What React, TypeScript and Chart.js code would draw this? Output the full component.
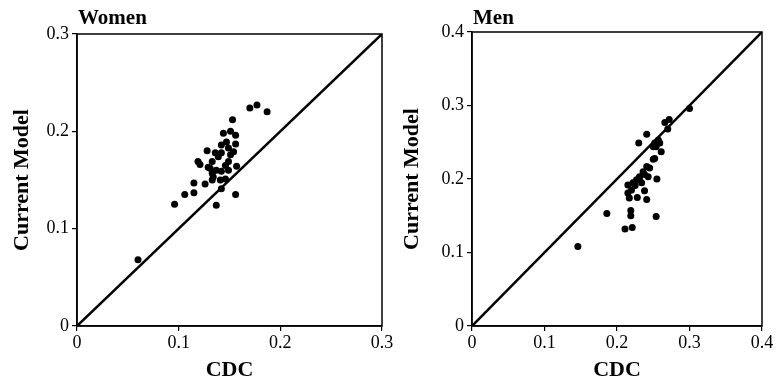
import React, { useEffect, useRef } from "react";
import { Chart, registerables } from "chart.js";

Chart.register(...registerables);

const womenCDC = [0.060, 0.096, 0.106, 0.115, 0.115, 0.126, 0.137, 0.142, 0.156, 0.146, 0.134, 0.129, 0.119, 0.121, 0.128, 0.133, 0.137, 0.142, 0.149, 0.133, 0.136, 0.139, 0.142, 0.149, 0.154, 0.156, 0.147, 0.144, 0.151, 0.156, 0.149, 0.146, 0.131, 0.142, 0.151, 0.141, 0.133, 0.153, 0.170, 0.177, 0.187, 0.157];
const womenModel = [0.068, 0.125, 0.135, 0.137, 0.147, 0.146, 0.124, 0.141, 0.135, 0.151, 0.153, 0.163, 0.169, 0.166, 0.180, 0.169, 0.160, 0.159, 0.160, 0.157, 0.178, 0.174, 0.186, 0.183, 0.179, 0.187, 0.189, 0.198, 0.200, 0.196, 0.169, 0.165, 0.162, 0.178, 0.176, 0.150, 0.150, 0.212, 0.224, 0.227, 0.220, 0.164];

const menCDC = [0.146, 0.186, 0.211, 0.221, 0.219, 0.219, 0.254, 0.215, 0.217, 0.228, 0.241, 0.238, 0.255, 0.215, 0.222, 0.227, 0.225, 0.231, 0.236, 0.241, 0.245, 0.238, 0.243, 0.250, 0.252, 0.230, 0.241, 0.252, 0.257, 0.254, 0.261, 0.259, 0.250, 0.266, 0.272, 0.270, 0.300, 0.231, 0.220, 0.234];
const menModel = [0.108, 0.153, 0.132, 0.134, 0.150, 0.157, 0.149, 0.181, 0.174, 0.175, 0.172, 0.184, 0.200, 0.192, 0.195, 0.199, 0.191, 0.203, 0.210, 0.217, 0.215, 0.206, 0.203, 0.227, 0.228, 0.249, 0.261, 0.249, 0.253, 0.244, 0.237, 0.249, 0.244, 0.277, 0.281, 0.268, 0.296, 0.199, 0.185, 0.195];

const womenMax = 0.3;
const menMax = 0.4;

const FONT = "'Liberation Serif', 'Times New Roman', serif";

type PanelCfg = {
  title: string;
  xs: number[];
  ys: number[];
  max: number;
  yAxisWidth: number;
  padTop: number;
  padRight: number;
};

function makeChart(canvas: HTMLCanvasElement, cfg: PanelCfg) {
  const points = cfg.xs.map((x, i) => ({ x, y: cfg.ys[i] }));
  const boxPlugin = {
    id: "boxAndTitle",
    afterDatasetsDraw(chart: any) {
      const { ctx, chartArea } = chart;
      ctx.save();
      ctx.strokeStyle = "#000";
      ctx.lineWidth = 1.5;
      ctx.strokeRect(chartArea.left, chartArea.top, chartArea.right - chartArea.left, chartArea.bottom - chartArea.top);
      ctx.fillStyle = "#000";
      ctx.font = `bold 21px ${FONT}`;
      ctx.textAlign = "left";
      ctx.textBaseline = "middle";
      ctx.fillText(cfg.title, chartArea.left + 1, 19);
      ctx.restore();
    },
  };
  const tickFont = { family: FONT, size: 18 };
  const titleFont = { family: FONT, size: 22, weight: "bold" as const };
  return new Chart(canvas, {
    type: "scatter",
    data: {
      datasets: [
        {
          data: [{ x: 0, y: 0 }, { x: cfg.max, y: cfg.max }],
          showLine: true,
          borderColor: "#000",
          borderWidth: 2.5,
          pointRadius: 0,
          pointHoverRadius: 0,
        } as any,
        {
          data: points,
          backgroundColor: "#000",
          borderColor: "#000",
          pointRadius: 3.5,
          borderWidth: 0,
        },
      ],
    },
    options: {
      animation: false,
      responsive: false,
      devicePixelRatio: 1,
      layout: { padding: { top: cfg.padTop, right: cfg.padRight, left: 0, bottom: 0 } },
      plugins: { legend: { display: false }, tooltip: { enabled: false } },
      scales: {
        x: {
          type: "linear",
          min: 0,
          max: cfg.max,
          afterFit: (s: any) => { s.height = 64; },
          ticks: { stepSize: 0.1, color: "#000", font: tickFont, padding: 1, maxRotation: 0, callback: (v: any) => String(Math.round(Number(v) * 10) / 10) },
          grid: { drawOnChartArea: false, drawTicks: true, tickLength: 5, color: "#000", lineWidth: 1.2 },
          border: { display: true, color: "#000", width: 1.5 },
          title: { display: true, text: "CDC", color: "#000", font: titleFont, padding: { top: 0, bottom: 6 } },
        },
        y: {
          type: "linear",
          min: 0,
          max: cfg.max,
          afterFit: (s: any) => { s.width = cfg.yAxisWidth; },
          ticks: { stepSize: 0.1, color: "#000", font: tickFont, padding: 3, callback: (v: any) => String(Math.round(Number(v) * 10) / 10) },
          grid: { drawOnChartArea: false, drawTicks: true, tickLength: 5, color: "#000", lineWidth: 1.2 },
          border: { display: true, color: "#000", width: 1.5 },
          title: { display: true, text: "Current Model", color: "#000", font: titleFont, padding: { top: 9, bottom: 0 } },
        },
      },
    },
    plugins: [boxPlugin],
  } as any);
}

export default function App() {
  const leftRef = useRef<HTMLCanvasElement>(null);
  const rightRef = useRef<HTMLCanvasElement>(null);
  useEffect(() => {
    const a = makeChart(leftRef.current!, { title: "Women", xs: womenCDC, ys: womenModel, max: womenMax, yAxisWidth: 77, padTop: 34, padRight: 18 });
    const b = makeChart(rightRef.current!, { title: "Men", xs: menCDC, ys: menModel, max: menMax, yAxisWidth: 82, padTop: 32, padRight: 17 });
    return () => { a.destroy(); b.destroy(); };
  }, []);
  return (
    <div style={{ position: "fixed", left: 0, top: 0, width: 779, height: 390, background: "#fff" }}>
      <canvas ref={leftRef} width={400} height={390} style={{ position: "absolute", left: 0, top: 0, width: 400, height: 390 }} />
      <canvas ref={rightRef} width={389} height={390} style={{ position: "absolute", left: 390, top: 0, width: 389, height: 390 }} />
    </div>
  );
}
